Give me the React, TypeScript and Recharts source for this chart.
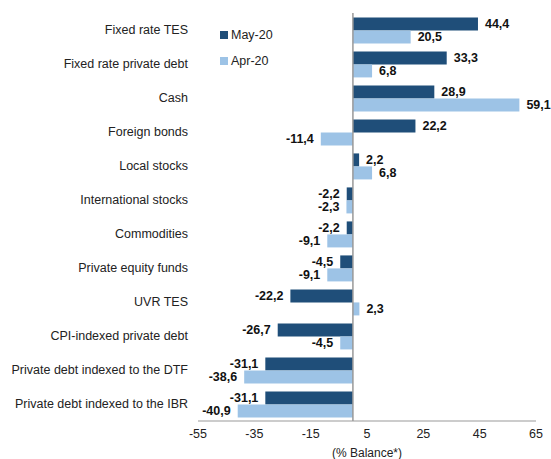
import React from 'react'
import {
  BarChart, Bar, XAxis, YAxis, ReferenceLine, LabelList,
} from 'recharts'

const categories = [
  'Fixed rate TES',
  'Fixed rate private debt',
  'Cash',
  'Foreign bonds',
  'Local stocks',
  'International stocks',
  'Commodities',
  'Private equity funds',
  'UVR TES',
  'CPI-indexed private debt',
  'Private debt indexed to the DTF',
  'Private debt indexed to the IBR',
]
const may20 = [44.4, 33.3, 28.9, 22.2, 2.2, -2.2, -2.2, -4.5, -22.2, -26.7, -31.1, -31.1]
const apr20 = [20.5, 6.8, 59.1, -11.4, 6.8, -2.3, -9.1, -9.1, 2.3, -4.5, -38.6, -40.9]
const xTicks = [-55, -35, -15, 5, 25, 45, 65]

const DARK = '#1F4E79'
const LIGHT = '#9DC3E6'
const FONT = '"Liberation Sans", Arial, sans-serif'

const data = categories.map((name, i) => ({ name, may: may20[i], apr: apr20[i] }))

const fmt = (v: number) => v.toFixed(1).replace('.', ',')

function ValueLabel(props: any) {
  const { x, y, width, height, value } = props
  const v = Number(value)
  const left = Math.min(x, x + width)
  const right = Math.max(x, x + width)
  const pos = v >= 0
  return (
    <text
      x={pos ? right + 7 : left - 7}
      y={y + height / 2}
      textAnchor={pos ? 'start' : 'end'}
      dominantBaseline="central"
      fontSize={12.5}
      fontWeight="bold"
      fill="#111"
      fontFamily={FONT}
    >
      {fmt(v)}
    </text>
  )
}

function CategoryTick(props: any) {
  const { x, y, payload } = props
  return (
    <text
      x={x}
      y={y}
      textAnchor="end"
      dominantBaseline="central"
      fontSize={12.5}
      fill="#222"
      fontFamily={FONT}
    >
      {payload.value}
    </text>
  )
}

const legendItems = [
  { label: 'May-20', color: DARK },
  { label: 'Apr-20', color: LIGHT },
]

export default function App() {
  return (
    <div style={{ position: 'absolute', left: 0, top: 0, width: 551, height: 459, background: '#fff' }}>
      <BarChart
        width={551}
        height={459}
        data={data}
        layout="vertical"
        margin={{ top: 13, right: 15, left: 0, bottom: 0 }}
        barGap={0}
        barCategoryGap="13%"
      >
        <XAxis
          type="number"
          domain={[-55, 65]}
          ticks={xTicks}
          tickLine={false}
          tickSize={0}
          tickMargin={8}
          height={38}
          stroke="#999"
          tick={{ fontSize: 12.5, fill: '#222', fontFamily: FONT }}
          label={{
            value: '(% Balance*)',
            position: 'insideBottom',
            offset: 2,
            fontSize: 12,
            fill: '#222',
            fontFamily: FONT,
          }}
        />
        <YAxis
          type="category"
          dataKey="name"
          width={198}
          axisLine={false}
          tickLine={false}
          tickSize={0}
          tickMargin={10}
          interval={0}
          tick={<CategoryTick />}
        />
        <ReferenceLine x={0} stroke="#999" strokeWidth={1.5} />
        <Bar dataKey="may" name="May-20" fill={DARK} isAnimationActive={false}>
          <LabelList dataKey="may" content={<ValueLabel />} />
        </Bar>
        <Bar dataKey="apr" name="Apr-20" fill={LIGHT} isAnimationActive={false}>
          <LabelList dataKey="apr" content={<ValueLabel />} />
        </Bar>
      </BarChart>
      {/* legend */}
      <div style={{ position: 'absolute', left: 220, top: 22, fontFamily: FONT, fontSize: 12.5, color: '#222' }}>
        {legendItems.map((it) => (
          <div key={it.label} style={{ display: 'flex', alignItems: 'center', height: 26 }}>
            <span style={{ width: 8, height: 8, background: it.color, marginRight: 3 }} />
            <span>{it.label}</span>
          </div>
        ))}
      </div>
    </div>
  )
}
